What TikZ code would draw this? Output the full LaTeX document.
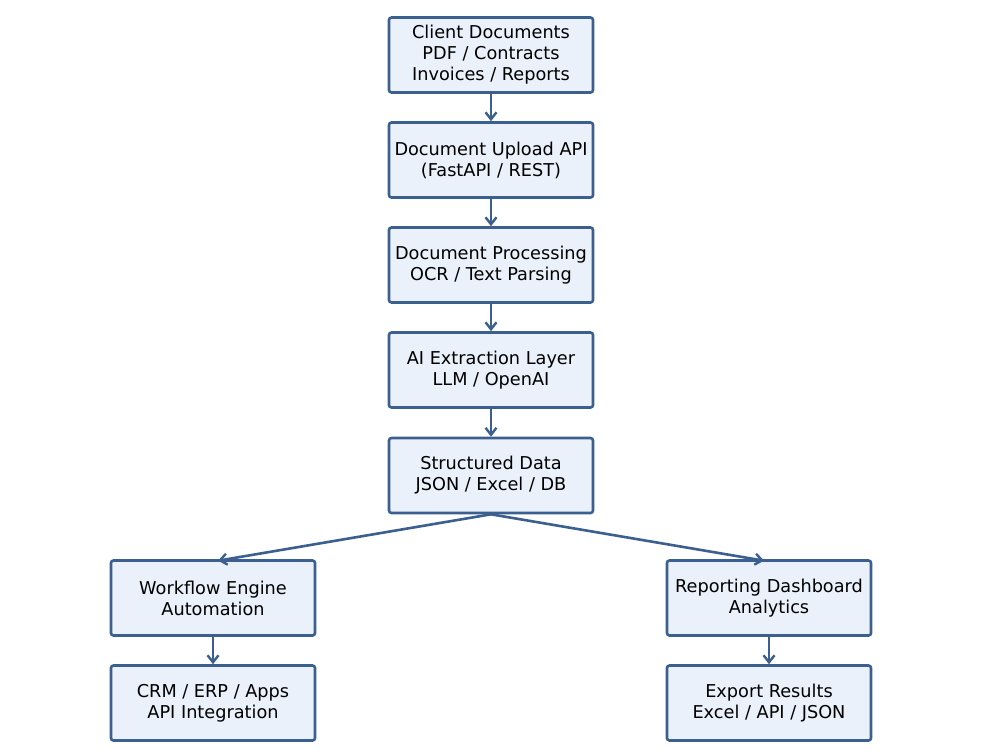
\documentclass[tikz,border=0pt]{standalone}
\usepackage{fontspec}
\setmainfont{DejaVu Sans}
\usetikzlibrary{arrows.meta,calc}
\definecolor{edge}{HTML}{3B5F8E}
\definecolor{boxfill}{HTML}{EAF1FA}
\begin{document}
\begin{tikzpicture}[x=1pt,y=-1pt,
  blk/.style={draw=edge, fill=boxfill, line width=2.6pt, rounded corners=2.5pt,
    minimum width=204pt, minimum height=75pt, align=center, inner sep=0pt,
    font=\fontsize{17.7}{21}\selectfont},
  conn/.style={draw=edge, line width=2.6pt, -{Straight Barb[length=7pt,width=11pt,line width=2.4pt]}}]
\useasboundingbox (0,0) rectangle (1000,750);
\node[blk] (cd) at (491,55) {Client Documents\\PDF / Contracts\\Invoices / Reports};
\node[blk] (up) at (491,160) {Document Upload API\\(FastAPI / REST)};
\node[blk] (dp) at (491,265) {Document Processing\\OCR / Text Parsing};
\node[blk] (ai) at (491,370) {AI Extraction Layer\\LLM / OpenAI};
\node[blk] (sd) at (491,475.5) {Structured Data\\JSON / Excel / DB};
\node[blk] (wf) at (213,598) {Workflow Engine\\Automation};
\node[blk] (rd) at (769,598) {Reporting Dashboard\\Analytics};
\node[blk] (crm) at (213,703) {CRM / ERP / Apps\\API Integration};
\node[blk] (ex) at (769,703) {Export Results\\Excel / API / JSON};
\draw[conn] (cd.south) -- (up.north);
\draw[conn] (up.south) -- (dp.north);
\draw[conn] (dp.south) -- (ai.north);
\draw[conn] (ai.south) -- (sd.north);
\draw[conn] (sd.south) -- ($(wf.north)+(5pt,-1.5pt)$);
\draw[conn] (sd.south) -- ($(rd.north)+(-5pt,-1.5pt)$);
\draw[conn] (wf.south) -- (crm.north);
\draw[conn] (rd.south) -- (ex.north);
\end{tikzpicture}
\end{document}
